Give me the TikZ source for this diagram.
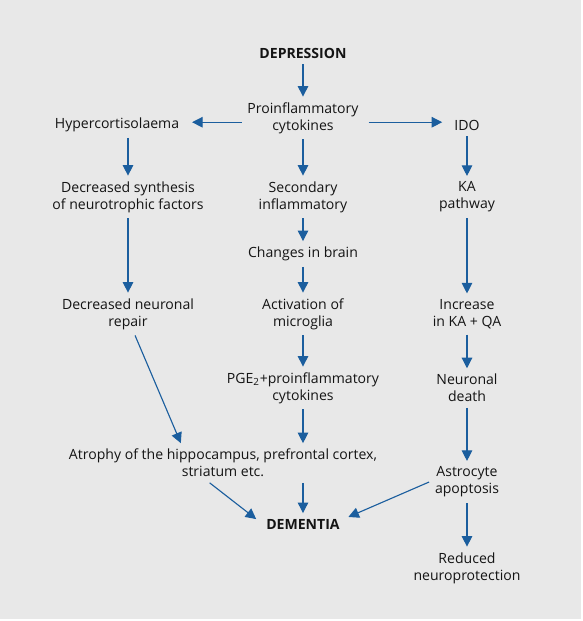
\documentclass[tikz,border=0pt]{standalone}
\usepackage{fontspec}
\setmainfont{Open Sans}
\usetikzlibrary{arrows.meta}
\definecolor{flowblue}{RGB}{27,94,158}
\definecolor{panelgray}{RGB}{232,232,232}
\definecolor{inkgray}{RGB}{20,20,20}

\begin{document}
\begin{tikzpicture}[x=0.025cm,y=-0.025cm,
    every node/.style={align=center,inner sep=4pt,text=inkgray,font=\fontsize{10}{12}\selectfont},
    flow/.style={-{Triangle[length=7.5pt,width=7.5pt]},line width=0.8pt}]
    \useasboundingbox (0,0) rectangle (583,621);
    \fill[panelgray] (0,0) rectangle (581,619);
    \node (Dep) at (303,53) {\textbf{DEPRESSION}};
    \node (Pro) at (303,118) {Proinflammatory\\cytokines};
    \node (Hyp) at (117,125) {Hypercortisolaema};
    \node (Ido) at (467,125) {IDO};
    \node (Syn) at (128,197) {Decreased synthesis\\of neurotrophic factors};
    \node (Sec) at (303,197) {Secondary\\inflammatory};
    \node (Kap) at (467,197) {KA\\pathway};
    \node (Chg) at (303,254) {Changes in brain};
    \node (Rep) at (128,314) {Decreased neuronal\\repair};
    \node (Act) at (303,314) {Activation of\\microglia};
    \node (Inc) at (467,314) {Increase\\in KA + QA};
    \node (Pge) at (303,388) {PGE\textsubscript{2}+proinflammatory\\cytokines};
    \node (Ndt) at (467,388) {Neuronal\\death};
    \node (Atr) at (223,463) {Atrophy of the hippocampus, prefrontal cortex,\\striatum etc.};
    \node (Ast) at (467,482) {Astrocyte\\apoptosis};
    \node (Dem) at (303,524) {\textbf{DEMENTIA}};
    \node (Red) at (467,568) {Reduced\\neuroprotection};
    \begin{scope}[color=flowblue]
        \draw[flow] (Dep) -- (Pro);
        \draw[flow,shorten >=5pt] ([yshift=-3pt]Pro.west) -- ([yshift=-3pt]Pro.west -| Hyp.east);
        \draw[flow,shorten <=3pt,shorten >=4.5pt] ([yshift=-3pt]Pro.east) -- ([yshift=-3pt]Pro.east -| Ido.west);
        \draw[flow] (Hyp.south -| Syn.north) -- (Syn.north);
        \draw[flow] (Pro) -- (Sec);
        \draw[flow] (Ido) -- (Kap);
        \draw[flow] (Syn) -- (Rep);
        \draw[flow] (Sec) -- (Chg);
        \draw[flow] (Kap) -- (Inc);
        \draw[flow] (Chg) -- (Act);
        \draw[flow] (Act) -- (Pge);
        \draw[flow] (Inc) -- (Ndt);
        \draw[flow] (Pge.south) -- (Pge.south |- Atr.north);
        \draw[flow] (Ndt) -- (Ast);
        \draw[flow] ([xshift=5pt]Rep.south) -- ([xshift=-30pt]Atr.north);
        \draw[flow] (Atr.south -| Dem.north) -- (Dem.north);
        \draw[flow] ([xshift=-9.5pt]Atr.south) -- ([shift={(-3pt,3.5pt)}]Dem.west);
        \draw[flow] (Ast.west) -- ([shift={(2pt,5pt)}]Dem.east);
        \draw[flow] (Ast) -- (Red);
    \end{scope}
\end{tikzpicture}
\end{document}
